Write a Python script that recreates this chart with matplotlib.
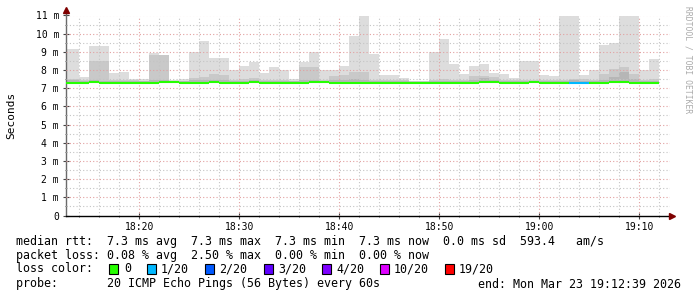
#!/usr/bin/env python
from __future__ import annotations

import matplotlib

matplotlib.use("Agg")

import matplotlib.pyplot as plt
from matplotlib.patches import Rectangle
from matplotlib.ticker import FuncFormatter, MultipleLocator

# minutes after 18:00 where each one-minute step starts (first step is cut by the left edge)
step_start = [12] + list(range(14, 72))
step_end = 72

# smoke layers, ms (top of light band, medium band, dark band)
rtt_max = [9.13, 7.60, 9.35, 9.35, 7.82, 7.92, 7.53, 7.48, 8.92, 8.85,
           7.46, 7.48, 8.98, 9.57, 8.69, 8.69, 8.03, 8.25, 8.42, 7.82,
           8.14, 8.03, 7.48, 8.42, 8.97, 7.98, 8.03, 8.20, 9.85, 10.95,
           8.86, 7.71, 7.71, 7.54, 7.40, 7.40, 9.02, 9.70, 8.31, 7.76,
           8.25, 8.36, 7.82, 7.76, 7.54, 8.48, 8.52, 7.71, 7.65, 12.0,
           12.0, 7.71, 8.03, 9.36, 9.47, 12.0, 12.0, 8.03, 8.62]
rtt_mid = [7.50, 7.45, 8.52, 8.52, 7.45, 7.45, 7.45, 7.42, 8.85, 8.80,
           7.42, 7.42, 7.58, 7.60, 7.80, 7.75, 7.45, 7.50, 7.55, 7.45,
           7.47, 7.45, 7.42, 8.18, 8.18, 7.45, 7.69, 7.75, 7.90, 7.90,
           7.47, 7.45, 7.45, 7.43, 7.38, 7.38, 7.45, 7.50, 7.47, 7.45,
           7.69, 7.69, 7.63, 7.45, 7.43, 7.45, 7.47, 7.45, 7.43, 7.45,
           7.52, 7.50, 7.47, 7.80, 8.07, 8.18, 7.80, 7.45, 7.50]
rtt_low = [7.45, 7.40, 7.45, 7.40, 7.40, 7.40, 7.40, 7.38, 7.45, 7.45,
           7.38, 7.38, 7.45, 7.45, 7.45, 7.45, 7.40, 7.42, 7.45, 7.40,
           7.40, 7.40, 7.38, 7.45, 7.45, 7.40, 7.45, 7.47, 7.50, 7.45,
           7.40, 7.40, 7.40, 7.38, 7.35, 7.35, 7.40, 7.42, 7.40, 7.40,
           7.47, 7.55, 7.45, 7.40, 7.38, 7.40, 7.40, 7.40, 7.38, 7.40,
           7.45, 7.42, 7.40, 7.45, 7.63, 7.90, 7.50, 7.40, 7.42]
rtt_median = [7.30, 7.30, 7.36, 7.30, 7.30, 7.30, 7.30, 7.30, 7.30, 7.36,
              7.36, 7.30, 7.30, 7.30, 7.36, 7.30, 7.30, 7.30, 7.36, 7.30,
              7.30, 7.30, 7.30, 7.30, 7.36, 7.36, 7.30, 7.30, 7.30, 7.30,
              7.30, 7.30, 7.30, 7.30, 7.30, 7.30, 7.30, 7.30, 7.30, 7.30,
              7.30, 7.36, 7.36, 7.30, 7.30, 7.30, 7.36, 7.30, 7.30, 7.30,
              7.30, 7.30, 7.30, 7.30, 7.36, 7.36, 7.30, 7.30, 7.30]
# lost pings out of 20 per step
loss_count = [0] * 50 + [1, 1] + [0] * 7

loss_levels = [0, 1, 2, 3, 4, 10, 19]
loss_labels = ["0", "1/20", "2/20", "3/20", "4/20", "10/20", "19/20"]
loss_colors = ["#26ff00", "#00b8ff", "#0059ff", "#5e00ff", "#7e00ff", "#dd00ff", "#ff0000"]

stats_rtt = "median rtt:  7.3 ms avg  7.3 ms max  7.3 ms min  7.3 ms now  0.0 ms sd  593.4   am/s"
stats_loss = "packet loss: 0.08 % avg  2.50 % max  0.00 % min  0.00 % now"
probe_text = "probe:       20 ICMP Echo Pings (56 Bytes) every 60s"
end_text = "end: Mon Mar 23 19:12:39 2026"

W, H = 697, 297
MONO = "DejaVu Sans Mono"


def fx(px: float) -> float:
    return px / W


def fy(py: float) -> float:
    return 1 - py / H


def _loss_color(count: int) -> str:
    color = loss_colors[0]
    for level, c in zip(loss_levels, loss_colors):
        if count >= level:
            color = c
    return color


def _time_label(t, _pos) -> str:
    t = int(round(t))
    return f"{18 + t // 60:02d}:{t % 60:02d}"


def main() -> None:
    fig = plt.figure(figsize=(W / 100, H / 100), dpi=100)
    ax = fig.add_axes([fx(66), fy(215.5), fx(670 - 66), 200 / H])
    x0, x1 = 12.67, 73.07
    edges = step_start + [step_end]

    ax.stairs(rtt_max, edges, baseline=rtt_median, fill=True, color="#dddddd", lw=0, zorder=2)
    ax.stairs(rtt_mid, edges, baseline=rtt_median, fill=True, color="#c9c9c9", lw=0, zorder=2.1)
    ax.stairs(rtt_low, edges, baseline=rtt_median, fill=True, color="#b6b6b6", lw=0, zorder=2.2)

    colors = [_loss_color(c) for c in loss_count]
    ax.hlines(rtt_median, edges[:-1], edges[1:], colors=colors, lw=1.5, zorder=4)

    ax.set_xlim(x0, x1)
    ax.set_ylim(0, 11)

    # rrdtool-like dotted grid drawn over the smoke
    dots = (0, (1, 2))
    for y in range(1, 12):
        ax.axhline(y, color="#e2a0a0", lw=0.8, ls=dots, zorder=3)
        ax.axhline(y - 0.5, color="#c4c4c4", lw=0.8, ls=dots, zorder=3)
    for t in range(14, 73, 2):
        c = "#e2a0a0" if t % 10 == 0 else "#c4c4c4"
        ax.axvline(t, color=c, lw=0.8, ls=dots, zorder=3)

    for side in ("top", "right"):
        ax.spines[side].set_visible(False)
    ax.spines["left"].set_color("#6a6a6a")
    ax.spines["bottom"].set_color("#000000")
    ax.spines["left"].set_linewidth(1.0)
    ax.spines["bottom"].set_linewidth(1.0)

    ax.plot([x0, x0], [11, 11.25], color="#6a6a6a", lw=1.0, clip_on=False)
    ax.plot([x0], [11.3], marker="^", ms=4, color="#7f0000", clip_on=False, zorder=5)
    ax.plot([73.25], [0], marker=">", ms=4, color="#7f0000", clip_on=False, zorder=5)

    ax.yaxis.set_major_locator(MultipleLocator(1))
    ax.yaxis.set_minor_locator(MultipleLocator(0.5))
    ax.yaxis.set_major_formatter(FuncFormatter(lambda v, _p: "0" if v == 0 else f"{int(v)} m"))
    ax.xaxis.set_major_locator(MultipleLocator(10))
    ax.xaxis.set_minor_locator(MultipleLocator(2))
    ax.xaxis.set_major_formatter(FuncFormatter(_time_label))
    ax.tick_params(axis="both", which="major", direction="inout", length=4, width=0.8,
                   labelsize=7, pad=3, color="#444444")
    ax.tick_params(axis="both", which="minor", direction="inout", length=2, width=0.6,
                   color="#444444")
    for lab in ax.get_xticklabels() + ax.get_yticklabels():
        lab.set_family(MONO)

    fig.text(fx(11), fy(115), "Seconds", rotation=90, ha="center", va="center",
             family=MONO, fontsize=8)
    fig.text(fx(688), fy(60), "RRDTOOL / TOBI OETIKER", rotation=270, ha="center",
             va="center", family=MONO, fontsize=5.8, color="#aaaaaa")

    fs = 8.4
    fig.text(fx(16), fy(241), stats_rtt, ha="left", va="center", family=MONO, fontsize=fs)
    fig.text(fx(16), fy(255), stats_loss, ha="left", va="center", family=MONO, fontsize=fs)
    fig.text(fx(16), fy(269), "loss color:", ha="left", va="center", family=MONO, fontsize=fs)
    box_x = [108.6, 146.5, 204.8, 263.6, 321.7, 380.0, 444.6]
    label_x = [123.8, 161.0, 219.0, 278.0, 336.0, 394.0, 459.0]
    for bx, lx, color, label in zip(box_x, label_x, loss_colors, loss_labels):
        fig.add_artist(Rectangle((fx(bx), fy(274)), 9 / W, 10 / H, transform=fig.transFigure,
                                 facecolor=color, edgecolor="#000000", lw=0.8))
        fig.text(fx(lx), fy(269), label, ha="left", va="center", family=MONO, fontsize=fs)
    fig.text(fx(16), fy(284), probe_text, ha="left", va="center", family=MONO, fontsize=fs)
    fig.text(fx(681), fy(284), end_text, ha="right", va="center", family=MONO, fontsize=fs)

    fig.savefig("out.png", dpi=100, facecolor="white")
    plt.close(fig)


if __name__ == "__main__":
    main()
